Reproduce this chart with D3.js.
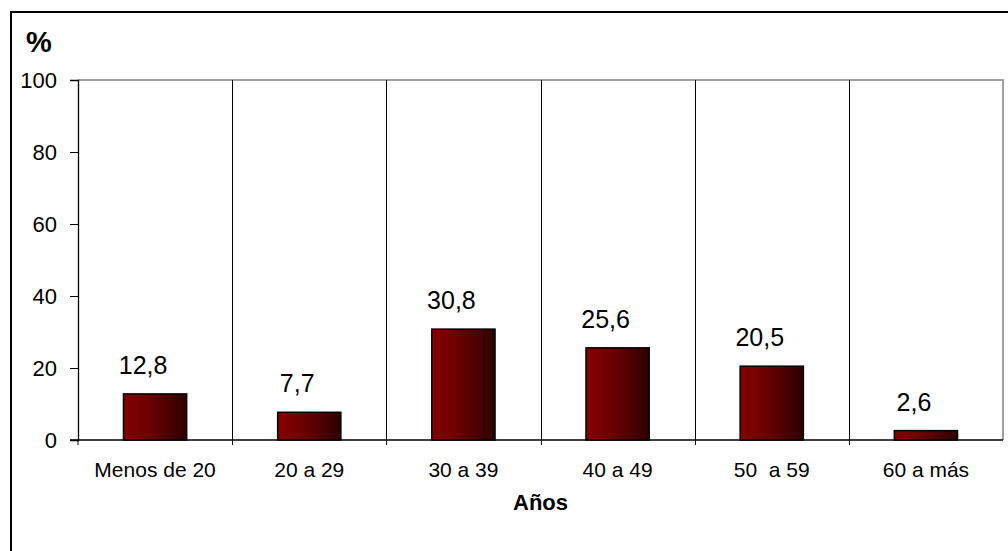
<!DOCTYPE html>
<html>
<head>
<meta charset="utf-8">
<script src="https://cdn.jsdelivr.net/npm/d3@7"></script>
<style>
  body { margin: 0; background: #fff; }
  svg text { font-family: "Liberation Sans", Arial, sans-serif; fill: #000; }
</style>
</head>
<body>
<svg id="chart" width="1008" height="551"></svg>
<script>
// datos
var categorias = ["Menos de 20", "20 a 29", "30 a 39", "40 a 49", "50  a 59", "60 a más"];
var valores = [12.8, 7.7, 30.8, 25.6, 20.5, 2.6];
var ticksY = [0, 20, 40, 60, 80, 100];

var svg = d3.select("#chart");
var mLeft = 78, mRight = 1003, mTop = 80, mBottom = 440;

// marco exterior
svg.append("rect")
  .attr("x", 11).attr("y", 12)
  .attr("width", 1010).attr("height", 560)
  .attr("fill", "none").attr("stroke", "#000").attr("stroke-width", 2);

var defs = svg.append("defs");
var grad = defs.append("linearGradient").attr("id", "barGrad")
  .attr("x1", "0%").attr("x2", "100%").attr("y1", "0%").attr("y2", "0%");
grad.append("stop").attr("offset", "0%").attr("stop-color", "#820000");
grad.append("stop").attr("offset", "30%").attr("stop-color", "#750000");
grad.append("stop").attr("offset", "100%").attr("stop-color", "#2e0000");

var x = d3.scaleBand().domain(categorias).range([mLeft, mRight]).padding(0);
var y = d3.scaleLinear().domain([0, 100]).range([mBottom, mTop]);

// borde superior y derecho del area (gris)
svg.append("path")
  .attr("d", "M" + mLeft + "," + y(100) + "H" + mRight + "V" + y(0))
  .attr("fill", "none").attr("stroke", "#a0a0a0").attr("stroke-width", 2);

// lineas verticales entre categorias
svg.append("g").selectAll("line")
  .data(categorias.slice(1))
  .enter().append("line")
  .attr("x1", function(d){ return Math.round(x(d)) + 0.5; })
  .attr("x2", function(d){ return Math.round(x(d)) + 0.5; })
  .attr("y1", y(100)).attr("y2", y(0) + 5)
  .attr("stroke", "#000").attr("stroke-width", 1);

// eje y
var yAxis = svg.append("g").attr("transform", "translate(" + mLeft + ",0)")
  .call(d3.axisLeft(y).tickValues(ticksY).tickSize(8).tickPadding(13));
yAxis.select(".domain").attr("stroke", "#000").attr("stroke-width", 1.3);
yAxis.selectAll(".tick line").attr("stroke", "#000");
yAxis.selectAll(".tick text").attr("font-size", 22).attr("fill", "#000")
  .attr("font-family", "Liberation Sans, Arial, sans-serif");

// eje x
svg.append("line")
  .attr("x1", mLeft - 8).attr("x2", mRight)
  .attr("y1", y(0)).attr("y2", y(0))
  .attr("stroke", "#000").attr("stroke-width", 1.3);
svg.append("line")
  .attr("x1", mLeft).attr("x2", mLeft).attr("y1", y(0)).attr("y2", y(0) + 5)
  .attr("stroke", "#000");

svg.append("g").selectAll("text")
  .data(categorias)
  .enter().append("text")
  .attr("x", function(d){ return x(d) + x.bandwidth() / 2; })
  .attr("y", 477)
  .attr("text-anchor", "middle")
  .attr("font-size", 21)
  .attr("xml:space", "preserve")
  .style("white-space", "pre")
  .text(function(d){ return d; });

// barras
var bw = x.bandwidth() * 0.41;
svg.append("g").selectAll("rect")
  .data(valores)
  .enter().append("rect")
  .attr("x", function(d, i){ return x(categorias[i]) + (x.bandwidth() - bw) / 2; })
  .attr("y", function(d){ return y(d); })
  .attr("width", bw)
  .attr("height", function(d){ return y(0) - y(d); })
  .attr("fill", "url(#barGrad)")
  .attr("stroke", "#000").attr("stroke-width", 1.5);

// etiquetas de valor
svg.append("g").selectAll("text")
  .data(valores)
  .enter().append("text")
  .attr("x", function(d, i){ return x(categorias[i]) + x.bandwidth() / 2 - 12; })
  .attr("y", function(d){ return y(d) - 20; })
  .attr("text-anchor", "middle")
  .attr("font-size", 25)
  .text(function(d){ return d.toFixed(1).replace(".", ","); });

// titulos
svg.append("text").attr("x", 26).attr("y", 52)
  .attr("font-size", 29).attr("font-weight", "bold").text("%");
svg.append("text").attr("x", (mLeft + mRight) / 2).attr("y", 510)
  .attr("text-anchor", "middle")
  .attr("font-size", 22).attr("font-weight", "bold").text("Años");
</script>
</body>
</html>
